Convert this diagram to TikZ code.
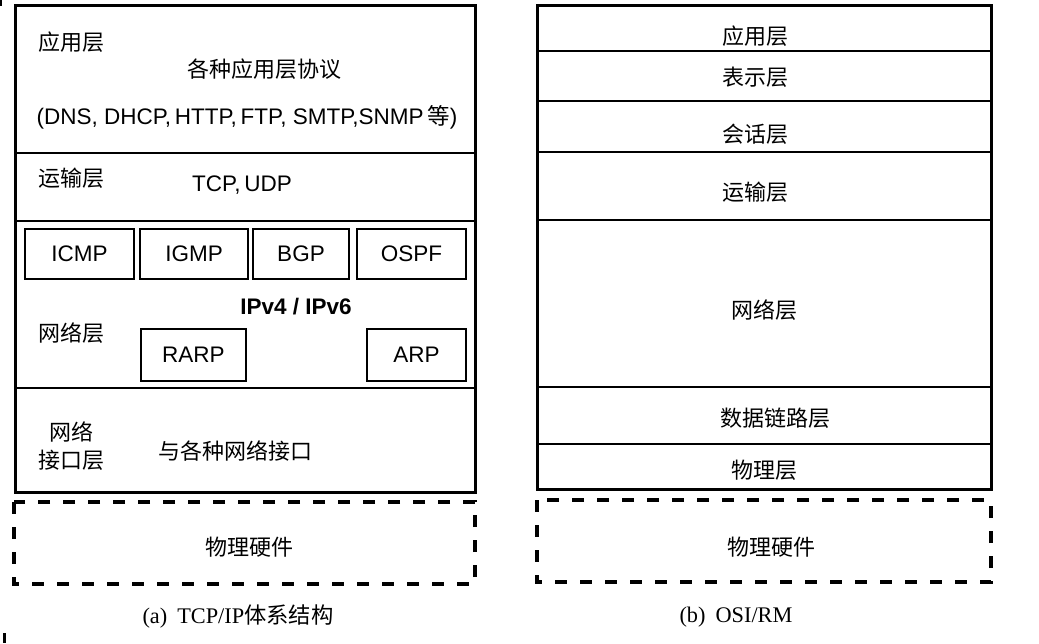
\documentclass[tikz,border=0pt]{standalone}
\usepackage{fontspec}
\setmainfont{Liberation Sans}
\newfontfamily\cjk{Noto Sans CJK SC}
\newfontfamily\capfont{Liberation Serif}
\begin{document}
\begin{tikzpicture}[x=1pt,y=-1pt,
  outerbox/.style={line width=3pt},
  sepline/.style={line width=2.5pt},
  septhin/.style={line width=2pt},
  dashbox/.style={line width=3.5pt, dash pattern=on 12pt off 13pt},
  proto/.style={draw, line width=1.5pt, inner sep=0pt, minimum height=50pt,
    font=\fontsize{22.5}{25}\selectfont},
  zh/.style={inner sep=0pt, font=\fontsize{22}{26}\cjk},
  lat/.style={inner sep=0pt, font=\fontsize{22.5}{25}\selectfont},
  capt/.style={inner sep=0pt, font=\fontsize{22.3}{25}\selectfont}]
\useasboundingbox (0,0) rectangle (1039,643);
% small edge marks
\draw[line width=2pt] (1,0) -- (1,6);
\draw[line width=3pt] (4,633) -- (4,643);

% ---------- (a) TCP/IP ----------
\draw[outerbox] (15,5) rectangle (475,492);
\draw[sepline] (15,153) -- (475,153);
\draw[sepline] (15,221) -- (475,221);
\draw[sepline] (15,388) -- (475,388);

\node[zh] (a-app) at (71,42) {应用层};
\node[zh] (a-appp) at (264,69) {各种应用层协议};
\node[lat] (a-list) at (247,117) {(DNS, DHCP,\,HTTP,\,FTP, SMTP,SNMP\,{\cjk 等})};
\node[zh] (a-tr) at (71,178) {运输层};
\node[lat] (a-tcp) at (242,185) {TCP,\,UDP};

\node[proto, minimum width=109pt] (icmp) at (79.5,254) {ICMP};
\node[proto, minimum width=108pt] (igmp) at (194,254) {IGMP};
\node[proto, minimum width=96pt] (bgp) at (301,254) {BGP};
\node[proto, minimum width=109pt] (ospf) at (411.5,254) {OSPF};
\node[lat, font=\fontsize{22.5}{25}\selectfont\bfseries] (ip) at (296,307) {IPv4 / IPv6};
\node[zh] (a-net) at (71,333) {网络层};
\node[proto, minimum width=105pt, minimum height=52pt] (rarp) at (193.5,355) {RARP};
\node[proto, minimum width=99pt, minimum height=52pt] (arp) at (416.5,355) {ARP};

\node[zh] (a-if1) at (71,432) {网络};
\node[zh] (a-if2) at (71,460) {接口层};
\node[zh] (a-ifd) at (235,451) {与各种网络接口};

\draw[dashbox] (14,502) rectangle (475,584);
\node[zh] (a-hw) at (249,547) {物理硬件};
\node[capt] (a-cap) at (238,616) {{\capfont (a)\hspace{0.45em}TCP/IP}{\cjk 体系结构}};

% ---------- (b) OSI/RM ----------
\draw[outerbox] (537,5) rectangle (991,489);
\foreach \yy in {51,101,152,220,387,444}
  \draw[septhin] (537,\yy) -- (991,\yy);

\node[zh] (b-app) at (755,36) {应用层};
\node[zh] (b-pre) at (755,77) {表示层};
\node[zh] (b-ses) at (755,134) {会话层};
\node[zh] (b-tr) at (755,192) {运输层};
\node[zh] (b-net) at (764,310) {网络层};
\node[zh] (b-dl) at (775,418) {数据链路层};
\node[zh] (b-ph) at (764,470) {物理层};

\draw[dashbox] (537,500) rectangle (991,582);
\node[zh] (b-hw) at (771,547) {物理硬件};
\node[capt] (b-cap) at (736,617) {\capfont (b)\hspace{0.45em}OSI/RM};
\end{tikzpicture}
\end{document}
